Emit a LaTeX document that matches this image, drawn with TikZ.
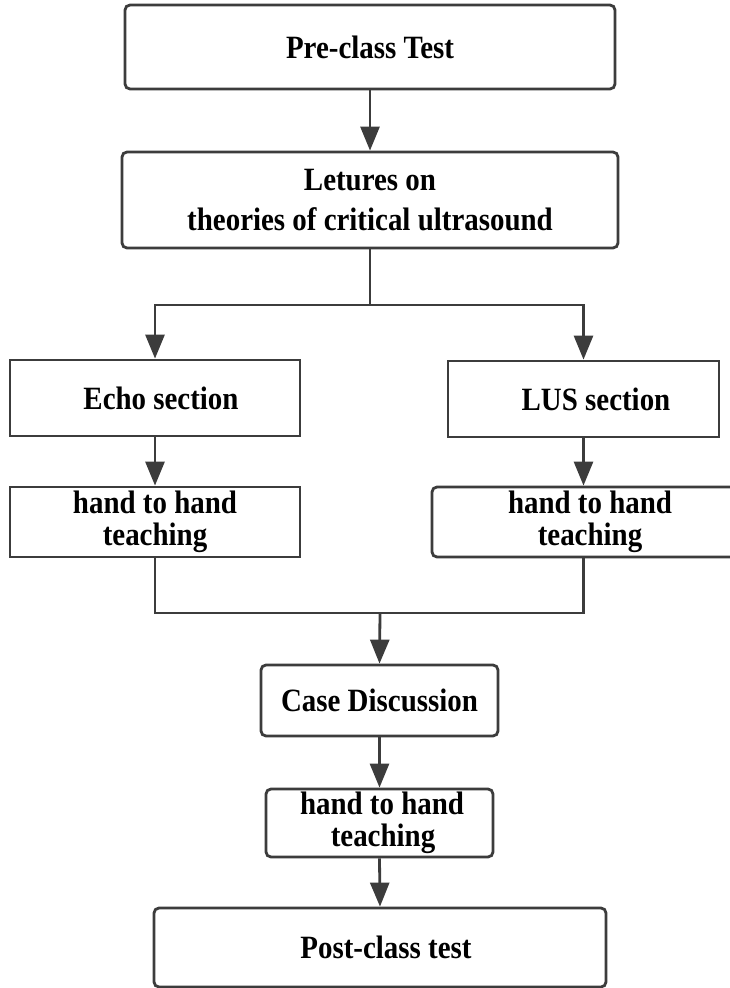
\documentclass[tikz,border=0pt]{standalone}
\usepackage{fontspec}
\setmainfont{Liberation Serif}[FakeStretch=0.89]
\usetikzlibrary{arrows.meta}
\definecolor{linec}{HTML}{3C3C3C}
\begin{document}
\begin{tikzpicture}[x=1pt,y=-1pt,
  box/.style={draw=linec, line width=2.8pt, inner sep=0pt, align=center,
    font=\fontsize{32.5}{32}\selectfont\bfseries, text=black},
  rbox/.style={box, rounded corners=5pt},
  conn/.style={draw=linec, line width=2.8pt},
  arr/.style={conn, -{Triangle[length=24pt,width=19pt]}}]
\useasboundingbox (0,0) rectangle (730,988);
\node[rbox, minimum width=490pt, minimum height=84pt] (pre) at (370,47) {Pre-class Test};
\node[rbox, minimum width=496pt, minimum height=96pt,
  font=\fontsize{32.5}{40}\selectfont\bfseries] (let) at (370,200) {Letures on\\theories of critical ultrasound};
\node[box, minimum width=290pt, minimum height=76pt] (echo) at (155,398) {\hspace*{12pt}Echo section};
\node[box, minimum width=271pt, minimum height=76pt] (lus) at (583.5,399) {\hspace*{25pt}LUS section};
\node[box, minimum width=290pt, minimum height=70pt] (hl) at (155,522) {hand to hand\\teaching};
\node[rbox, minimum width=308pt, minimum height=70pt] (hr) at (586,522) {\hspace*{8pt}hand to hand\\\hspace*{8pt}teaching};
\node[rbox, minimum width=237pt, minimum height=71pt] (case) at (379.5,700.5) {Case Discussion};
\node[rbox, minimum width=227pt, minimum height=68pt] (h3) at (379.5,823) {\hspace*{5pt}hand to hand\\\hspace*{7pt}teaching};
\node[rbox, minimum width=452pt, minimum height=79pt] (post) at (380,947.5) {\hspace*{12pt}Post-class test};
\coordinate (b) at (370,305);
\coordinate (m) at (380,613);
\draw[arr] (pre.south) -- (let.north);
\draw[conn] (let.south) -- (b);
\draw[arr] (b) -| (echo.north);
\draw[arr] (b) -| (lus.north);
\draw[arr] (echo.south) -- (hl.north);
\draw[arr] (lus.south) -- (lus.south |- hr.north);
\draw[conn] (hl.south) -- (hl.south |- m) -- (m -| lus.south) -- (lus.south |- hr.south);
\draw[arr] (m) -- (case.north);
\draw[arr] (case.south) -- (h3.north);
\draw[arr] (h3.south) -- (post.north);
\end{tikzpicture}
\end{document}
